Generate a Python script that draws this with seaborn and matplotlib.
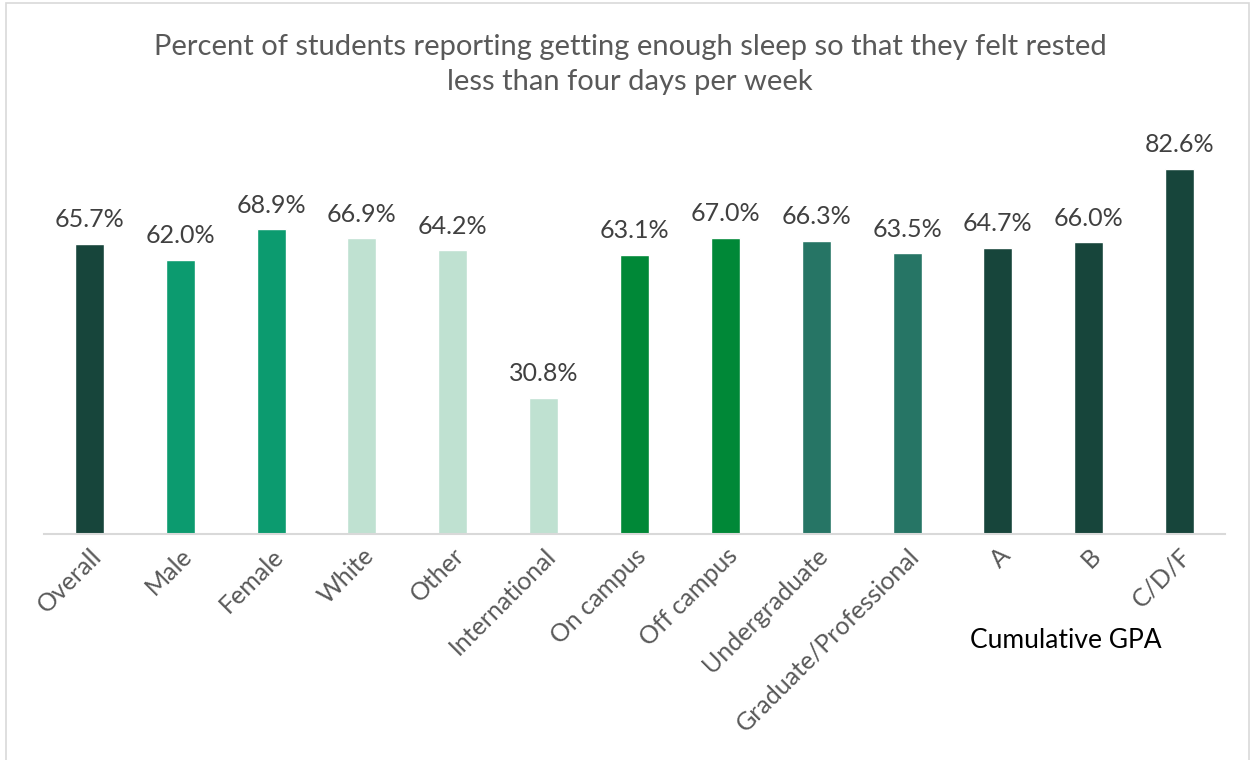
import matplotlib
matplotlib.use('Agg')
import matplotlib.pyplot as plt
import pandas as pd
import seaborn as sns
from matplotlib.patches import Rectangle

# данные с картинки
groups = ['Overall', 'Male', 'Female', 'White', 'Other', 'International',
          'On campus', 'Off campus', 'Undergraduate', 'Graduate/Professional',
          'A', 'B', 'C/D/F']
percent = [65.7, 62.0, 68.9, 66.9, 64.2, 30.8, 63.1, 67.0, 66.3, 63.5, 64.7, 66.0, 82.6]
bar_colors = ['#17453B', '#0C9B6F', '#0C9B6F', '#BFE1D1', '#BFE1D1', '#BFE1D1',
              '#008837', '#008837', '#267565', '#267565', '#17453B', '#17453B', '#17453B']
title = ('Percent of students reporting getting enough sleep so that they felt rested\n'
         'less than four days per week')
gpa_label = 'Cumulative GPA'

sns.set_theme(style='white')
plt.rcParams['font.family'] = ['Lato', 'DejaVu Sans']

df = pd.DataFrame({'group': groups, 'percent': percent})

fig = plt.figure(figsize=(12.53, 7.6), dpi=100)
ax = fig.add_axes([0.0351, 0.297, 0.9426, 0.524])

sns.barplot(data=df, x='group', y='percent', hue='group', palette=bar_colors,
            width=0.32, legend=False, ax=ax, saturation=1)

ax.set_xlim(-0.5, len(groups) - 0.5)
ax.set_ylim(0, 90)

# подписи над столбиками
for i, v in enumerate(percent):
    ax.annotate(f'{v:.1f}%', (i, v), xytext=(0, 12), textcoords='offset points',
                ha='center', va='baseline', fontsize=18, color='#404040')

ax.set_xlabel('')
ax.set_ylabel('')
ax.set_yticks([])
ax.tick_params(axis='x', length=0, pad=7)
plt.setp(ax.get_xticklabels(), rotation=45, ha='right', rotation_mode='anchor',
         fontsize=18, color='#595959')

for s in ['top', 'right', 'left']:
    ax.spines[s].set_visible(False)
ax.spines['bottom'].set_color('#D9D9D9')
ax.spines['bottom'].set_linewidth(1.5)

fig.text(0.503, 0.955, title, ha='center', va='top', fontsize=21,
         color='#595959', linespacing=1.4)
fig.text(0.851, 0.157, gpa_label, ha='center', va='center', fontsize=19, color='black')

# рамка вокруг графика
fig.patches.append(Rectangle((0.005, -0.01), 0.992, 1.006, transform=fig.transFigure,
                             fill=False, edgecolor='#D9D9D9', linewidth=1.2))

fig.savefig('out.png', dpi=100)
